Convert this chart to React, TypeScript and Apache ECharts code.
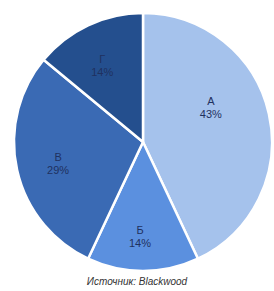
import React, { useEffect, useRef } from "react";
import * as echarts from "echarts";

const categories = ["А", "Б", "В", "Г"];
const values = [43, 14, 29, 14];
const colors = ["#a5c2ec", "#5b90df", "#3a6ab4", "#244f8e"];
const labelShift: [number, number][] = [
  [2, -20],
  [-3, 27],
  [-19, 7],
  [-12, -15],
];
const sourceText = "Источник: Blackwood";

export default function App() {
  const ref = useRef<HTMLDivElement>(null);
  useEffect(() => {
    if (!ref.current) return;
    const chart = echarts.init(ref.current, undefined, { renderer: "svg" });
    chart.setOption({
      animation: false,
      backgroundColor: "#ffffff",
      graphic: [
        {
          type: "text",
          left: "center",
          top: 276,
          style: {
            text: sourceText,
            fontSize: 10,
            fontStyle: "italic",
            fontFamily: "Liberation Sans, Arial, sans-serif",
            fill: "#333333",
          },
        },
      ],
      series: [
        {
          type: "pie",
          center: [143, 142],
          radius: [0, 129],
          startAngle: 90,
          clockwise: true,
          silent: true,
          itemStyle: { borderColor: "#ffffff", borderWidth: 2.5 },
          label: {
            show: true,
            position: "inside",
            formatter: (p: any) => `${p.name}\n${p.value}%`,
            fontSize: 11,
            lineHeight: 13,
            color: "#1f3160",
            fontFamily: "Liberation Sans, Arial, sans-serif",
          },
          labelLine: { show: false },
          labelLayout: (p: any) => {
            const s = labelShift[p.dataIndex] || [0, 0];
            return { dx: s[0], dy: s[1] };
          },
          data: categories.map((c, i) => ({
            name: c,
            value: values[i],
            itemStyle: { color: colors[i] },
          })),
        },
      ],
    });
    return () => chart.dispose();
  }, []);
  return (
    <div
      ref={ref}
      style={{ position: "fixed", left: 0, top: 0, width: 274, height: 291 }}
    />
  );
}
